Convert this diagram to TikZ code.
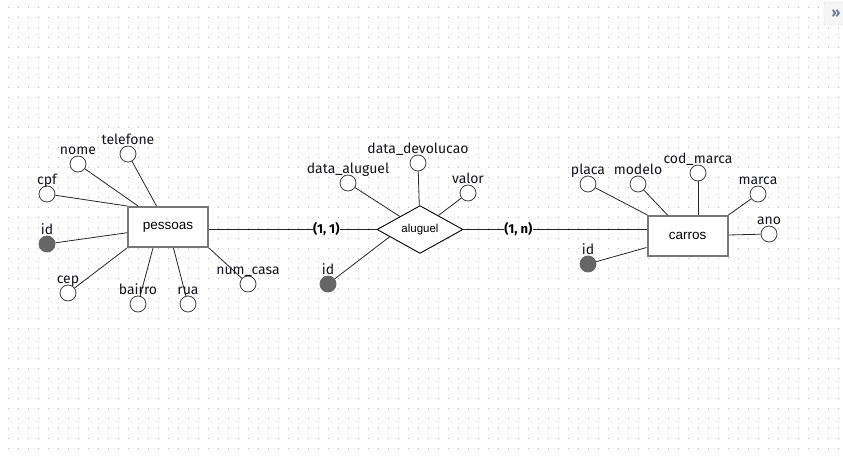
\documentclass[tikz,border=0pt]{standalone}
\usepackage{fontspec}
\setmainfont{Fira Sans}
\newfontfamily\entfont{Liberation Sans}
\usetikzlibrary{shapes.geometric,calc}
\definecolor{dotgrey}{HTML}{B4B4B4}
\definecolor{edgegrey}{HTML}{777777}
\definecolor{keygrey}{HTML}{666666}
\definecolor{txtdark}{HTML}{141420}
\definecolor{btnblue}{HTML}{6B7B9B}

\begin{document}
\begin{tikzpicture}[x=1pt,y=-1pt,
    entity/.style={draw=edgegrey,line width=2pt,fill=white,minimum width=80pt,minimum height=40pt,inner sep=0pt,font=\entfont\fontsize{13.5}{16}\selectfont},
    relation/.style={diamond,draw=black,line width=0.9pt,fill=white,minimum width=86pt,minimum height=45pt,inner sep=0pt,font=\entfont\fontsize{11.5}{14}\selectfont},
    attr/.style={circle,draw=darkgray,fill=white,line width=0.8pt,minimum size=16pt,inner sep=0pt,label distance=1pt},
    keyattr/.style={attr,fill=keygrey,draw=keygrey},
    every label/.style={font=\fontsize{14}{16}\selectfont,text=txtdark,inner sep=0.5pt,text depth=0pt},
    card/.style={font=\bfseries\fontsize{13}{15}\selectfont,fill=white,inner sep=0.5pt},
    link/.style={draw=black!85,line width=0.8pt}]
  \useasboundingbox[fill=white] (0,0) rectangle (843,457);
  \foreach \gx in {8,18,...,838}
    \foreach \gy in {8,18,...,448}
      \fill[dotgrey] (\gx-0.5,\gy-0.5) rectangle ++(1,1);
  \node[draw=gray!30,fill=gray!8,rounded corners=2pt,minimum width=24pt,minimum height=23pt,text=btnblue,font=\bfseries\fontsize{14}{16}\selectfont] (panelBtn) at (836,13.5) {»};

  \node[entity] (pessoas) at (168,227) {pessoas};
  \node[relation] (aluguel) at (420,229.5) {aluguel};
  \node[entity] (carros) at (687.5,236) {carros};

  \node[attr,label=above:telefone] (telefone) at (128,154) {};
  \node[attr,label=above:nome] (nome) at (78,164) {};
  \node[attr,label=above:cpf] (cpf) at (47,194) {};
  \node[keyattr,label=above:id] (idPessoa) at (47,244) {};
  \node[attr,label=above:cep] (cep) at (68,293) {};
  \node[attr,label=above:bairro] (bairro) at (138,304) {};
  \node[attr,label=above:rua] (rua) at (188,304) {};
  \node[attr,label=above:num\_casa] (numCasa) at (248,284) {};

  \node[attr,label=above:data\_aluguel] (dataAluguel) at (348,183) {};
  \node[attr,label=above:data\_devolucao] (dataDevolucao) at (418,163) {};
  \node[attr,label=above:valor] (valor) at (468,193) {};
  \node[keyattr,label=above:id] (idAluguel) at (328,284) {};

  \node[attr,label=above:placa] (placa) at (588,184) {};
  \node[attr,label=above:modelo] (modelo) at (638,184) {};
  \node[attr,label=above:cod\_marca] (codMarca) at (698,173) {};
  \node[attr,label=above:marca] (marca) at (758,194) {};
  \node[attr,label=above:ano] (ano) at (769,234) {};
  \node[keyattr,label=above:id] (idCarro) at (588,264) {};

  \draw[link] (telefone) -- (pessoas);
  \draw[link] (nome) -- (pessoas);
  \draw[link] (cpf) -- (pessoas.north west);
  \draw[link] (idPessoa) -- (pessoas);
  \draw[link] (cep) -- (pessoas.south west);
  \draw[link] (bairro) -- ([xshift=-15pt]pessoas.south);
  \draw[link] (rua) -- (pessoas);
  \draw[link] (numCasa) -- (pessoas.south east);

  \draw[link] (dataAluguel) -- (aluguel);
  \draw[link] (dataDevolucao) -- (aluguel);
  \draw[link] (valor) -- (aluguel);
  \draw[link] (idAluguel) -- ($(aluguel.west)!0.3!(aluguel.south)$);

  \draw[link] (placa) -- (carros);
  \draw[link] (modelo) -- (carros);
  \draw[link] (codMarca.south) -- (codMarca.south |- carros.north);
  \draw[link] (marca) -- (carros.north east);
  \draw[link] (ano) -- (carros);
  \draw[link] (idCarro) -- (carros);

  \draw[link] (aluguel.west -| pessoas.east) -- node[card,pos=0.7] {(1, 1)} (aluguel.west);
  \draw[link] (aluguel.east) -- node[card,pos=0.3] {(1, n)} (aluguel.east -| carros.west);
\end{tikzpicture}
\end{document}
